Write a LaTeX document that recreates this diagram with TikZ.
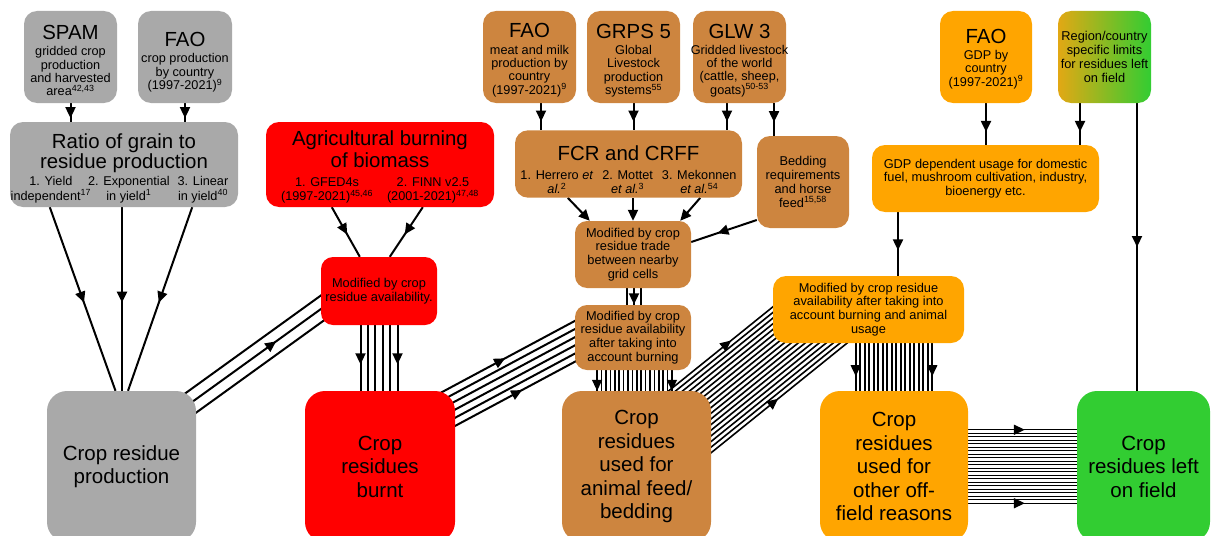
\documentclass[tikz,border=0pt]{standalone}
\usepackage{fontspec}
\setmainfont{Liberation Sans}
\usetikzlibrary{arrows.meta,calc,decorations.markings,backgrounds}
\definecolor{cgrey}{HTML}{A9A9A9}
\definecolor{cred}{HTML}{FF0000}
\definecolor{cbrown}{HTML}{CD853F}
\definecolor{corange}{HTML}{FFA500}
\definecolor{cgreen}{HTML}{32CD32}
\definecolor{cgradl}{HTML}{E2A814}
\newcommand\ftitle{\fontsize{20.4}{23}\selectfont}
\newcommand\fsmall{\fontsize{12.7}{13.3}\selectfont}
\newcommand\fmid{\fontsize{12.8}{13.8}\selectfont}
\newcommand\fbig{\fontsize{20.5}{23.5}\selectfont}
\newcommand\tstrut[1]{\rule{0pt}{#1pt}}
\tikzset{
  box/.style={rounded corners=13pt, align=center, inner sep=0pt, font=\fsmall},
  bigbox/.style={box, rounded corners=20pt, font=\fbig},
  wh/.style 2 args={minimum width=#1pt, minimum height=#2pt},
  arr/.style={line width=2pt},
  tiparr/.style={line width=2pt,-{Triangle[length=11pt,width=10pt]}},
  midarr/.style={postaction={decorate,decoration={markings,mark=at position #1 with {\arrow{Triangle[length=11pt,width=10pt]}}}}},
}
% #1 start, #2 end, #3 number of lines, #4 spacing, #5 arrow position, #6 mode (0 outer, 1 middle), #7 line width
\newcommand\bundle[7]{%
  \pgfmathtruncatemacro\bN{#3}%
  \pgfmathsetmacro\bHalf{(#3-1)/2}%
  \pgfmathtruncatemacro\bMid{(#3+1)/2}%
  \foreach \k in {1,...,\bN}{%
    \pgfmathsetmacro\bOff{(\k-1-\bHalf)*#4}%
    \tikzset{bcur/.style={}}%
    \ifnum#6=0
      \ifnum\k=1 \tikzset{bcur/.style={midarr=#5}}\fi
      \ifnum\k=\bN\relax \tikzset{bcur/.style={midarr=#5}}\fi
    \else
      \ifnum\k=\bMid\relax \tikzset{bcur/.style={midarr=#5}}\fi
    \fi
    \draw[line width=#7pt,bcur] ($(#1)!\bOff pt!90:(#2)$) -- ($(#2)!\bOff pt!-90:(#1)$);
  }%
}
\begin{document}
\begin{tikzpicture}[x=1pt,y=-1pt]
\useasboundingbox (0,0) rectangle (1214,535);
% ---------- grey ----------
\node[box,wh={93}{92},fill=cgrey] (spam) at (70.5,57) {{\ftitle\tstrut{21.5}SPAM}\\[3pt]gridded crop\\production\\and harvested\\area\textsuperscript{42,43}};
\node[box,wh={94}{92},fill=cgrey] (faog) at (185,57) {{\ftitle\tstrut{24.5}FAO}\\[3pt]crop production\\by country\\(1997-2021)\textsuperscript{9}};
\node[box,wh={228}{85},fill=cgrey] (ratio) at (124,164.5) {{\ftitle\tstrut{23.8}Ratio of grain to}\\{\ftitle residue production}\\[2.5pt]{\begin{tabular}[t]{@{}c@{\hspace{-3pt}}c@{\hspace{8pt}}c@{\hspace{9pt}}}1. Yield&2. Exponential&3. Linear\\independent\textsuperscript{17}&in yield\textsuperscript{1}&in yield\textsuperscript{40}\end{tabular}}};
\node[bigbox,wh={149}{151},fill=cgrey] (prod) at (121.5,466.5) {Crop residue\\production};
% ---------- red ----------
\node[box,wh={228}{85},fill=cred] (agburn) at (380,164.5) {{\ftitle\tstrut{21.6}Agricultural burning}\\[2pt]{\ftitle of biomass}\\[5.5pt]{\begin{tabular}[t]{@{}c@{\hspace{14pt}}c@{}}1. GFED4s&2. FINN v2.5\\(1997-2021)\textsuperscript{45,46}&(2001-2021)\textsuperscript{47,48}\end{tabular}}};
\node[box,wh={116}{68},fill=cred,font=\fmid,rounded corners=12pt] (modred) at (379,291) {Modified by crop\\residue availability.};
\node[bigbox,wh={150}{151},fill=cred] (burnt) at (380,466.5) {Crop\\residues\\burnt};
% ---------- brown ----------
\node[box,wh={93}{92},fill=cbrown] (faob) at (529.5,57) {{\ftitle\tstrut{20.5}FAO}\\[3pt]meat and milk\\production by\\country\\(1997-2021)\textsuperscript{9}};
\node[box,wh={93}{92},fill=cbrown] (grps) at (633.5,57) {{\ftitle\tstrut{21.5}GRPS 5}\\[3pt]Global\\Livestock\\production\\systems\textsuperscript{55}};
\node[box,wh={93}{92},fill=cbrown] (glw) at (739.5,57) {{\ftitle\tstrut{21}GLW 3}\\[3pt]\makebox[86pt]{Gridded livestock}\\of the world\\(cattle, sheep,\\goats)\textsuperscript{50-53}};
\node[box,wh={227}{66},fill=cbrown] (fcr) at (628.5,164) {{\ftitle\tstrut{30}FCR and CRFF}\\[5.5pt]{\begin{tabular}[t]{@{}c@{\hspace{9pt}}c@{\hspace{9pt}}c@{}}1. Herrero \textit{et}&2. Mottet&3. Mekonnen\\\textit{al.}\textsuperscript{2}&\textit{et al.}\textsuperscript{3}&\textit{et al.}\textsuperscript{54}\end{tabular}}};
\node[box,wh={92}{92},fill=cbrown,font=\fmid] (bedding) at (803,182) {Bedding\\requirements\\and horse\\feed\textsuperscript{15,58}};
\node[box,wh={116}{67},fill=cbrown,font=\fmid,rounded corners=12pt] (trade) at (633,254.5) {Modified by crop\\residue trade\\between nearby\\grid cells};
\node[box,wh={116}{65},fill=cbrown,font=\fmid,rounded corners=12pt] (modbrown) at (633,337.5) {Modified by crop\\residue availability\\after taking into\\account burning};
\node[bigbox,wh={149}{151},fill=cbrown] (feed) at (636.5,466.5) {Crop\\residues\\used for\\animal feed/\\bedding};
% ---------- orange / green ----------
\node[box,wh={92}{92},fill=corange] (faoo) at (986,57) {{\ftitle\tstrut{18}FAO}\\[3pt]GDP by\\country\\(1997-2021)\textsuperscript{9}};
\node[box,wh={93}{92},left color=cgradl,right color=cgreen,font=\fmid] (region) at (1104.5,57) {Region/country\\specific limits\\for residues left\\on field};
\node[box,wh={227}{67},fill=corange,font=\fmid] (gdp) at (985.5,178.5) {GDP dependent usage for domestic\\fuel, mushroom cultivation, industry,\\bioenergy etc.};
\node[box,wh={191}{67},fill=corange,font=\fmid] (modorange) at (868.5,309.5) {Modified by crop residue\\availability after taking into\\account burning and animal\\usage};
\node[bigbox,wh={148}{151},fill=corange] (other) at (894,466.5) {Crop\\residues\\used for\\other off-\\field reasons};
\node[bigbox,wh={133}{151},fill=cgreen] (green) at (1143.5,466.5) {Crop\\residues left\\on field};
% ---------- connectors ----------
\begin{scope}[on background layer]
\draw[arr,midarr=0.8] (spam.south) -- (spam.south |- ratio.north);
\draw[arr,midarr=0.8] (faog.south) -- (faog.south |- ratio.north);
\draw[arr,midarr=0.52] ($(ratio.south west)+(40,0)$) -- ($(prod.north)+(-6,0)$);
\draw[arr,midarr=0.52] ($(ratio.south)+(-2,0)$) -- ($(prod.north)+(0.5,0)$);
\draw[arr,midarr=0.52] ($(ratio.south east)+(-46,0)$) -- ($(prod.north)+(6.5,0)$);
\draw[arr,midarr=0.55] ($(agburn.south west)+(66,0)$) -- ($(modred.north west)+(39,0)$);
\draw[arr,midarr=0.55] ($(agburn.south west)+(157,0)$) -- ($(modred.north west)+(69,0)$);
\coordinate (c1) at ($(faob.south)+(11.5,0)$);
\draw[arr,midarr=0.68] (c1) -- (c1 |- fcr.north);
\draw[arr,midarr=0.68] (grps.south) -- (grps.south |- fcr.north);
\coordinate (c2) at ($(glw.south)+(-12.5,0)$);
\draw[arr,midarr=0.68] (c2) -- (c2 |- fcr.north);
\coordinate (c3) at ($(glw.south)+(34.5,0)$);
\draw[arr,midarr=0.58] (c3) -- (c3 |- bedding.north);
\draw[tiparr] ($(fcr.south west)+(53,0)$) -- ($(trade.north west)+(15,0)$);
\draw[tiparr] (trade.north |- fcr.south) -- (trade.north);
\draw[tiparr] ($(fcr.south east)+(-42,0)$) -- ($(trade.north east)+(-11,0)$);
\draw[arr,midarr=0.6] ($(bedding.west)+(0,38)$) -- ($(trade.east)+(0,-12.5)$);
\draw[arr,midarr=0.69] (faoo.south) -- (faoo.south |- gdp.north);
\coordinate (c4) at ($(region.south)+(-24.5,0)$);
\draw[arr,midarr=0.69] (c4) -- (c4 |- gdp.north);
\coordinate (c5) at ($(region.south)+(32.5,0)$);
\draw[arr,midarr=0.5] (c5) -- (c5 |- green.north);
\coordinate (c6) at ($(gdp.south)+(-87.5,0)$);
\draw[arr,midarr=0.6] (c6) -- (c6 |- modorange.north);
% bundles
\coordinate (b1s) at ($(prod.north east)+(-8,14)$);
\coordinate (b1e) at ($(modred.west)+(14,8)$);
\bundle{b1s}{b1e}{3}{11}{0.6}{1}{2}
\coordinate (b2s) at ($(modred.south)+(0,-3)$);
\coordinate (b2e) at ($(modred.south |- burnt.north)+(0,4)$);
\bundle{b2s}{b2e}{6}{7.4}{0.58}{0}{2}
\coordinate (b3s) at ($(burnt.north east)+(-10,20)$);
\coordinate (b3e) at ($(modbrown.west)+(10,-1.5)$);
\bundle{b3s}{b3e}{6}{7.2}{0.49}{0}{2}
\coordinate (b4s) at ($(trade.south)+(1,-2)$);
\coordinate (b4e) at ($(trade.south |- modbrown.north)+(1,2)$);
\bundle{b4s}{b4e}{3}{7}{0.88}{1}{2}
\coordinate (b5s) at ($(modbrown.south)+(1.5,-2)$);
\coordinate (b5e) at ($(modbrown.south |- feed.north)+(1.5,4)$);
\bundle{b5s}{b5e}{18}{4.4}{0.85}{0}{1.6}
\coordinate (b6s) at ($(feed.north east)+(-25,34)$);
\coordinate (b6e) at ($(modorange.south west)+(53,-31)$);
\bundle{b6s}{b6e}{18}{4.4}{0.49}{0}{1.6}
\coordinate (b7s) at ($(other.north |- modorange.south)+(0,-3)$);
\coordinate (b7e) at ($(other.north)+(0,4)$);
\bundle{b7s}{b7e}{18}{4.5}{0.66}{0}{1.6}
\coordinate (b8s) at ($(other.east)+(-4,0)$);
\coordinate (b8e) at ($(green.west)+(4,0)$);
\bundle{b8s}{b8e}{22}{3.5}{0.52}{0}{1.4}
\end{scope}
\end{tikzpicture}
\end{document}
